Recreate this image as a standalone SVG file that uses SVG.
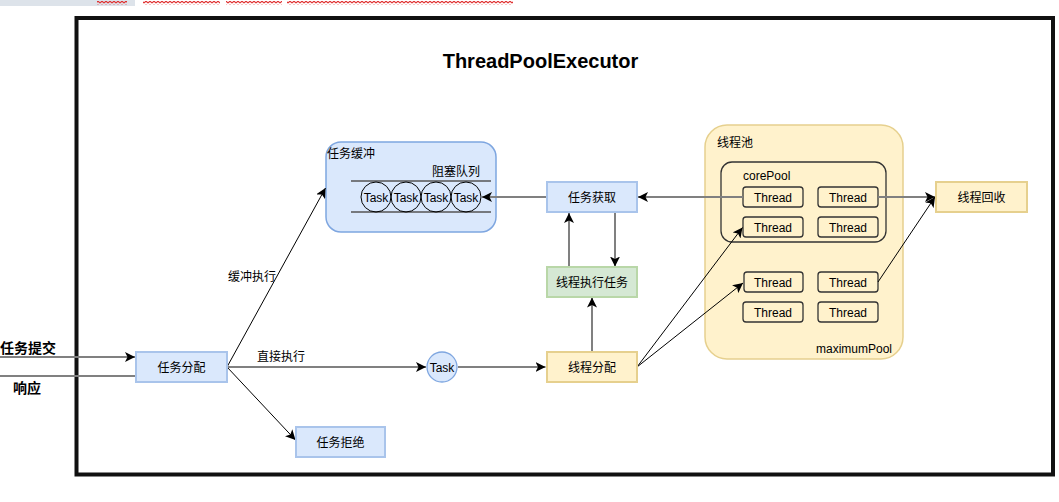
<svg xmlns="http://www.w3.org/2000/svg" width="1059" height="502" viewBox="0 0 1059 502">
<style>
text{font-family:"Liberation Sans","Noto Sans CJK SC",sans-serif;font-size:12px;fill:#000}
.c{text-anchor:middle}
.blue{fill:#dae8fc;stroke:#a9c4eb;stroke-width:2}
.yel{fill:#fff2cc;stroke:#e6d08e;stroke-width:2}
.grn{fill:#d5e8d4;stroke:#b9d7a8;stroke-width:2}
.thr{fill:#fff2cc;stroke:#333;stroke-width:1.3}
.g{stroke:#808080;stroke-width:2;fill:none;marker-end:url(#a)}
.k{stroke:#000;stroke-width:1;fill:none;marker-end:url(#a)}
</style>
<defs>
<marker id="a" markerUnits="userSpaceOnUse" markerWidth="12" markerHeight="10" refX="10" refY="5" orient="auto">
<path d="M0,0 L10,5 L0,10 L2.5,5 Z" fill="#000"/>
</marker>
<pattern id="wave" patternUnits="userSpaceOnUse" width="4" height="4">
<path d="M0,3 L2,1 L4,3" stroke="#e03030" stroke-width="1.2" fill="none"/>
</pattern>
</defs>
<rect width="1059" height="502" fill="#fff"/>
<g id="topstrip">
<rect x="0" y="0" width="135" height="6" fill="#dde3ea"/>
<rect x="97" y="1" width="30" height="4" fill="url(#wave)"/>
<rect x="143" y="1" width="77" height="4" fill="url(#wave)"/>
<rect x="226" y="1" width="56" height="4" fill="url(#wave)"/>
<rect x="287" y="1" width="226" height="4" fill="url(#wave)"/>
</g>
<rect id="frame" x="76.5" y="18" width="976.5" height="456.5" fill="none" stroke="#111" stroke-width="4"/>
<text x="540.5" y="68" class="c" style="font-size:20px;font-weight:bold">ThreadPoolExecutor</text>

<g id="buffer">
<rect x="326" y="142" width="170" height="90" rx="15" fill="#dae8fc" stroke="#7ea6e0" stroke-width="1.5"/>
<text x="327" y="158">任务缓冲</text>
<text x="432" y="176">阻塞队列</text>
<line x1="351" y1="181" x2="491" y2="181" stroke="#555" stroke-width="1.5"/>
<line x1="351" y1="212" x2="491" y2="212" stroke="#555" stroke-width="1.5"/>
<g fill="none" stroke="#000" stroke-width="1">
<circle cx="376" cy="197" r="15"/><circle cx="406" cy="197" r="15"/><circle cx="436" cy="197" r="15"/><circle cx="466" cy="197" r="15"/>
</g>
<text x="376" y="202" class="c">Task</text><text x="406" y="202" class="c">Task</text><text x="436" y="202" class="c">Task</text><text x="466" y="202" class="c">Task</text>
</g>

<g id="pool">
<rect x="705" y="125" width="198" height="234" rx="22" fill="#fff2cc" stroke="#e6d08e" stroke-width="1.5"/>
<text x="717" y="147">线程池</text>
<text x="816" y="353">maximumPool</text>
<rect x="721" y="162" width="165" height="80" rx="11" fill="none" stroke="#333" stroke-width="1.3"/>
<text x="743" y="180">corePool</text>
<rect class="thr" x="743" y="187" width="60" height="20" rx="3"/><text x="773" y="202" class="c">Thread</text>
<rect class="thr" x="818" y="187" width="60" height="20" rx="3"/><text x="848" y="202" class="c">Thread</text>
<rect class="thr" x="743" y="217" width="60" height="20" rx="3"/><text x="773" y="232" class="c">Thread</text>
<rect class="thr" x="818" y="217" width="60" height="20" rx="3"/><text x="848" y="232" class="c">Thread</text>
<rect class="thr" x="744" y="272" width="59" height="20" rx="3"/><text x="773" y="287" class="c">Thread</text>
<rect class="thr" x="818" y="272" width="60" height="20" rx="3"/><text x="848" y="287" class="c">Thread</text>
<rect class="thr" x="743" y="302" width="60" height="20" rx="3"/><text x="773" y="317" class="c">Thread</text>
<rect class="thr" x="818" y="302" width="60" height="20" rx="3"/><text x="848" y="317" class="c">Thread</text>
</g>

<g id="connectors">
<line class="g" x1="0" y1="357" x2="135" y2="357"/>
<line x1="136" y1="376" x2="0" y2="376" stroke="#808080" stroke-width="2"/>
<line class="k" x1="227" y1="367" x2="325.5" y2="188"/>
<line class="g" x1="227" y1="367" x2="426" y2="367"/>
<line class="k" x1="227" y1="367" x2="295.5" y2="440"/>
<line class="g" x1="458" y1="367" x2="545.5" y2="367"/>
<line class="g" x1="592" y1="352" x2="592" y2="297.5"/>
<line class="g" x1="569" y1="267" x2="569" y2="213"/>
<line class="g" x1="615" y1="212" x2="615" y2="266.5"/>
<line class="g" x1="547" y1="197" x2="482" y2="197"/>
<line class="g" x1="743" y1="197" x2="638" y2="197"/>
<line class="k" x1="637" y1="367" x2="742.5" y2="227.5"/>
<line class="k" x1="637" y1="367" x2="743" y2="283"/>
<line class="g" x1="878" y1="197" x2="935" y2="197"/>
<line class="k" x1="878" y1="282" x2="935" y2="197"/>
</g>

<g id="submit"><text x="0" y="353" style="font-size:14px;font-weight:bold">任务提交</text></g>
<g id="response"><text x="13" y="393" style="font-size:14px;font-weight:bold">响应</text></g>

<g id="dispatch"><rect class="blue" x="136" y="352" width="91" height="30"/><text x="181.5" y="372" class="c">任务分配</text></g>
<g id="reject"><rect class="blue" x="296" y="427" width="89" height="30"/><text x="340.5" y="447" class="c">任务拒绝</text></g>
<g id="fetch"><rect class="blue" x="547" y="182" width="90" height="30"/><text x="592" y="202" class="c">任务获取</text></g>
<g id="exec"><rect class="grn" x="547" y="267" width="90" height="30"/><text x="592" y="287" class="c">线程执行任务</text></g>
<g id="assign"><rect class="yel" x="547" y="352" width="90" height="30"/><text x="592" y="372" class="c">线程分配</text></g>
<g id="recycle"><rect class="yel" x="936" y="182" width="91" height="30"/><text x="981.5" y="202" class="c">线程回收</text></g>
<g id="task"><circle cx="442" cy="367" r="15" fill="#dae8fc" stroke="#7ea6e0" stroke-width="1.3"/><text x="442" y="372" class="c">Task</text></g>

<text x="228" y="281">缓冲执行</text>
<text x="257" y="361">直接执行</text>
</svg>
